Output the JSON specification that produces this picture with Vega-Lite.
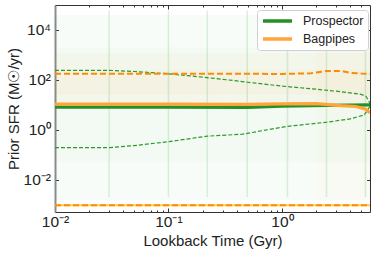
{
 "$schema": "https://vega.github.io/schema/vega-lite/v6.json",
 "width": 315,
 "height": 207,
 "autosize": {"type": "none"},
 "padding": {"left": 55, "top": 5, "right": 4, "bottom": 42},
 "background": "white",
 "config": {
  "view": {"stroke": null},
  "axis": {"domainColor": "#333333", "tickColor": "#333333", "labelFont": "Liberation Sans", "titleFont": "Liberation Sans", "labelFontSize": 15.5, "titleFontSize": 15, "titleFontWeight": "normal", "labelColor": "#222222", "titleColor": "#222222", "grid": false, "tickWidth": 1, "domainWidth": 1}
 },
 "datasets": {
  "bands": [
   {"band": "g1", "x1": 0.01, "x2": 5.98, "y1": 0.0015, "y2": 40000},
   {"band": "g2", "x1": 0.01, "x2": 5.98, "y1": 0.05, "y2": 2000},
   {"band": "o1", "x1": 0.01, "x2": 5.98, "y1": 12, "y2": 1200},
   {"band": "o2", "x1": 0.01, "x2": 5.98, "y1": 25, "y2": 250},
   {"band": "o3", "x1": 2.0, "x2": 5.98, "y1": 0.0015, "y2": 20000}
  ],
  "edges": [
   {"t": 0.03, "ylo": 0.002, "yhi": 60000},
   {"t": 0.1, "ylo": 0.002, "yhi": 60000},
   {"t": 0.22, "ylo": 0.002, "yhi": 60000},
   {"t": 0.495, "ylo": 0.002, "yhi": 60000},
   {"t": 1.12, "ylo": 0.002, "yhi": 60000},
   {"t": 2.47, "ylo": 0.002, "yhi": 60000},
   {"t": 5.45, "ylo": 0.002, "yhi": 60000}
  ],
  "pct": [
   {"code": "Prospector", "q": "p84", "t": 0.01, "sfr": 240},
   {"code": "Prospector", "q": "p84", "t": 0.03, "sfr": 240},
   {"code": "Prospector", "q": "p84", "t": 0.05, "sfr": 215},
   {"code": "Prospector", "q": "p84", "t": 0.1, "sfr": 175},
   {"code": "Prospector", "q": "p84", "t": 0.2, "sfr": 128},
   {"code": "Prospector", "q": "p84", "t": 0.3, "sfr": 105},
   {"code": "Prospector", "q": "p84", "t": 0.5, "sfr": 80},
   {"code": "Prospector", "q": "p84", "t": 1.0, "sfr": 56},
   {"code": "Prospector", "q": "p84", "t": 2.0, "sfr": 42},
   {"code": "Prospector", "q": "p84", "t": 3.0, "sfr": 35},
   {"code": "Prospector", "q": "p84", "t": 4.0, "sfr": 30},
   {"code": "Prospector", "q": "p84", "t": 5.0, "sfr": 26},
   {"code": "Prospector", "q": "p84", "t": 5.5, "sfr": 22},
   {"code": "Prospector", "q": "p84", "t": 5.8, "sfr": 15},
   {"code": "Prospector", "q": "p84", "t": 5.98, "sfr": 11},
   {"code": "Prospector", "q": "p16", "t": 0.01, "sfr": 0.19},
   {"code": "Prospector", "q": "p16", "t": 0.03, "sfr": 0.19},
   {"code": "Prospector", "q": "p16", "t": 0.05, "sfr": 0.23},
   {"code": "Prospector", "q": "p16", "t": 0.1, "sfr": 0.33},
   {"code": "Prospector", "q": "p16", "t": 0.22, "sfr": 0.55},
   {"code": "Prospector", "q": "p16", "t": 0.45, "sfr": 0.66},
   {"code": "Prospector", "q": "p16", "t": 1.1, "sfr": 1.35},
   {"code": "Prospector", "q": "p16", "t": 2.5, "sfr": 2.0},
   {"code": "Prospector", "q": "p16", "t": 4.0, "sfr": 2.7},
   {"code": "Prospector", "q": "p16", "t": 5.3, "sfr": 3.9},
   {"code": "Prospector", "q": "p16", "t": 5.7, "sfr": 6},
   {"code": "Prospector", "q": "p16", "t": 5.98, "sfr": 9},
   {"code": "Bagpipes", "q": "p84", "t": 0.01, "sfr": 176},
   {"code": "Bagpipes", "q": "p84", "t": 0.3, "sfr": 176},
   {"code": "Bagpipes", "q": "p84", "t": 1.0, "sfr": 172},
   {"code": "Bagpipes", "q": "p84", "t": 1.8, "sfr": 182},
   {"code": "Bagpipes", "q": "p84", "t": 2.5, "sfr": 225},
   {"code": "Bagpipes", "q": "p84", "t": 3.3, "sfr": 228},
   {"code": "Bagpipes", "q": "p84", "t": 4.0, "sfr": 190},
   {"code": "Bagpipes", "q": "p84", "t": 5.0, "sfr": 178},
   {"code": "Bagpipes", "q": "p84", "t": 5.98, "sfr": 174},
   {"code": "Bagpipes", "q": "p16", "t": 0.01, "sfr": 0.00093},
   {"code": "Bagpipes", "q": "p16", "t": 5.98, "sfr": 0.00093}
  ],
  "med": [
   {"code": "Prospector", "t": 0.01, "sfr": 8.0},
   {"code": "Prospector", "t": 0.1, "sfr": 8.0},
   {"code": "Prospector", "t": 0.5, "sfr": 7.9},
   {"code": "Prospector", "t": 1.0, "sfr": 8.7},
   {"code": "Prospector", "t": 2.5, "sfr": 9.4},
   {"code": "Prospector", "t": 5.98, "sfr": 9.9},
   {"code": "Bagpipes", "t": 0.01, "sfr": 10.5},
   {"code": "Bagpipes", "t": 0.1, "sfr": 10.6},
   {"code": "Bagpipes", "t": 0.5, "sfr": 10.3},
   {"code": "Bagpipes", "t": 1.0, "sfr": 10.8},
   {"code": "Bagpipes", "t": 2.0, "sfr": 11.0},
   {"code": "Bagpipes", "t": 3.3, "sfr": 9.2},
   {"code": "Bagpipes", "t": 4.5, "sfr": 8.5},
   {"code": "Bagpipes", "t": 5.5, "sfr": 6.6},
   {"code": "Bagpipes", "t": 5.98, "sfr": 4.7}
  ]
 },
 "layer": [
  {
   "data": {"name": "bands"},
   "transform": [{"filter": "datum.band == 'g1'"}],
   "mark": {"type": "rect", "color": "#2ca02c", "opacity": 0.03, "clip": true},
   "encoding": {
    "x": {"field": "x1", "type": "quantitative", "scale": {"type": "log", "domain": [0.01, 5.98], "nice": false},
     "axis": {"orient": "bottom", "title": "Lookback Time (Gyr)", "values": [0.01, 0.02, 0.03, 0.04, 0.05, 0.06, 0.07, 0.08, 0.09, 0.1, 0.2, 0.3, 0.4, 0.5, 0.6, 0.7, 0.8, 0.9, 1, 2, 3, 4, 5],
      "labelExpr": "abs(log(datum.value)/LN10 - round(log(datum.value)/LN10)) < 0.000001 ? (round(log(datum.value)/LN10) == -2 ? '10⁻²' : (round(log(datum.value)/LN10) == -1 ? '10⁻¹' : '10⁰')) : ''",
      "tickSize": {"condition": {"test": "abs(log(datum.value)/LN10 - round(log(datum.value)/LN10)) < 0.000001", "value": -4}, "value": -2},
      "labelPadding": 6, "labelOverlap": false, "labelFlush": false, "labelBound": false, "titlePadding": 2}},
    "x2": {"field": "x2"},
    "y": {"field": "y1", "type": "quantitative", "scale": {"type": "log", "domain": [0.0005, 100000], "nice": false},
     "axis": {"orient": "left", "title": "Prior SFR (M☉/yr)", "values": [0.01, 1, 100, 10000],
      "labelExpr": "datum.value < 0.1 ? '10⁻²' : (datum.value < 10 ? '10⁰' : (datum.value < 1000 ? '10²' : '10⁴'))",
      "tickSize": -3.5, "labelPadding": 8, "domainColor": "#8c8c8c", "domainWidth": 2, "titlePadding": 2, "labelOverlap": false}},
    "y2": {"field": "y2"}
   }
  },
  {
   "data": {"name": "bands"},
   "transform": [{"filter": "datum.band == 'g2'"}],
   "mark": {"type": "rect", "color": "#2ca02c", "opacity": 0.025, "clip": true},
   "encoding": {
    "x": {"field": "x1", "type": "quantitative", "scale": {"type": "log", "domain": [0.01, 5.98], "nice": false}, "axis": null},
    "x2": {"field": "x2"},
    "y": {"field": "y1", "type": "quantitative", "scale": {"type": "log", "domain": [0.0005, 100000], "nice": false}, "axis": null},
    "y2": {"field": "y2"}
   }
  },
  {
   "data": {"name": "bands"},
   "transform": [{"filter": "datum.band == 'o1' || datum.band == 'o2'"}],
   "mark": {"type": "rect", "color": "#ff9a2a", "opacity": 0.035, "clip": true},
   "encoding": {
    "x": {"field": "x1", "type": "quantitative", "scale": {"type": "log", "domain": [0.01, 5.98], "nice": false}, "axis": null},
    "x2": {"field": "x2"},
    "y": {"field": "y1", "type": "quantitative", "scale": {"type": "log", "domain": [0.0005, 100000], "nice": false}, "axis": null},
    "y2": {"field": "y2"}
   }
  },
  {
   "data": {"name": "bands"},
   "transform": [{"filter": "datum.band == 'o3'"}],
   "mark": {"type": "rect", "color": "#ff9a2a", "opacity": 0.025, "clip": true},
   "encoding": {
    "x": {"field": "x1", "type": "quantitative", "scale": {"type": "log", "domain": [0.01, 5.98], "nice": false}, "axis": null},
    "x2": {"field": "x2"},
    "y": {"field": "y1", "type": "quantitative", "scale": {"type": "log", "domain": [0.0005, 100000], "nice": false}, "axis": null},
    "y2": {"field": "y2"}
   }
  },
  {
   "data": {"name": "edges"},
   "mark": {"type": "rule", "color": "#2ca02c", "opacity": 0.16, "strokeWidth": 1.5, "clip": true},
   "encoding": {
    "x": {"field": "t", "type": "quantitative", "scale": {"type": "log", "domain": [0.01, 5.98], "nice": false},
     "axis": {"orient": "top", "title": null, "labels": false, "values": [0.01, 0.02, 0.03, 0.04, 0.05, 0.06, 0.07, 0.08, 0.09, 0.1, 0.2, 0.3, 0.4, 0.5, 0.6, 0.7, 0.8, 0.9, 1, 2, 3, 4, 5],
      "tickSize": {"condition": {"test": "abs(log(datum.value)/LN10 - round(log(datum.value)/LN10)) < 0.000001", "value": -4}, "value": -2}}},
    "y": {"field": "ylo", "type": "quantitative", "scale": {"type": "log", "domain": [0.0005, 100000], "nice": false},
     "axis": {"orient": "right", "title": null, "labels": false, "values": [0.01, 1, 100, 10000], "tickSize": -3.5}},
    "y2": {"field": "yhi"}
   }
  },
  {
   "data": {"name": "pct"},
   "transform": [{"filter": "datum.code == 'Prospector'"}],
   "mark": {"type": "line", "color": "#2a9a2a", "strokeWidth": 1.2, "strokeDash": [4, 2], "clip": true},
   "encoding": {
    "x": {"field": "t", "type": "quantitative", "scale": {"type": "log", "domain": [0.01, 5.98], "nice": false}, "axis": null},
    "y": {"field": "sfr", "type": "quantitative", "scale": {"type": "log", "domain": [0.0005, 100000], "nice": false}, "axis": null},
    "detail": {"field": "q"}
   }
  },
  {
   "data": {"name": "pct"},
   "transform": [{"filter": "datum.code == 'Bagpipes' && datum.q == 'p16'"}],
   "mark": {"type": "line", "color": "#ffcc44", "strokeWidth": 2, "clip": true},
   "encoding": {
    "x": {"field": "t", "type": "quantitative", "scale": {"type": "log", "domain": [0.01, 5.98], "nice": false}, "axis": null},
    "y": {"field": "sfr", "type": "quantitative", "scale": {"type": "log", "domain": [0.0005, 100000], "nice": false}, "axis": null}
   }
  },
  {
   "data": {"name": "pct"},
   "transform": [{"filter": "datum.code == 'Bagpipes'"}],
   "mark": {"type": "line", "color": "#ff8c00", "strokeWidth": 2, "strokeDash": [6, 3], "clip": true},
   "encoding": {
    "x": {"field": "t", "type": "quantitative", "scale": {"type": "log", "domain": [0.01, 5.98], "nice": false}, "axis": null},
    "y": {"field": "sfr", "type": "quantitative", "scale": {"type": "log", "domain": [0.0005, 100000], "nice": false}, "axis": null},
    "detail": {"field": "q"}
   }
  },
  {
   "data": {"name": "med"},
   "mark": {"type": "line", "strokeWidth": 3.2, "clip": true},
   "encoding": {
    "x": {"field": "t", "type": "quantitative", "scale": {"type": "log", "domain": [0.01, 5.98], "nice": false}, "axis": null},
    "y": {"field": "sfr", "type": "quantitative", "scale": {"type": "log", "domain": [0.0005, 100000], "nice": false}, "axis": null},
    "color": {"field": "code", "type": "nominal", "scale": {"domain": ["Prospector", "Bagpipes"], "range": ["#268f26", "#ffa53a"]},
     "legend": {"orient": "none", "legendX": 202, "legendY": 5, "title": null, "symbolType": "stroke", "symbolStrokeWidth": 3.5, "symbolSize": 841, "labelFont": "Liberation Sans", "labelFontSize": 12.5, "labelColor": "#222222", "labelOffset": 9, "padding": 4, "fillColor": "white", "strokeColor": "#d0d0d0", "cornerRadius": 3, "clipHeight": 14, "rowPadding": 4}}
   }
  }
 ],
 "resolve": {"axis": {"x": "independent", "y": "independent"}}
}
